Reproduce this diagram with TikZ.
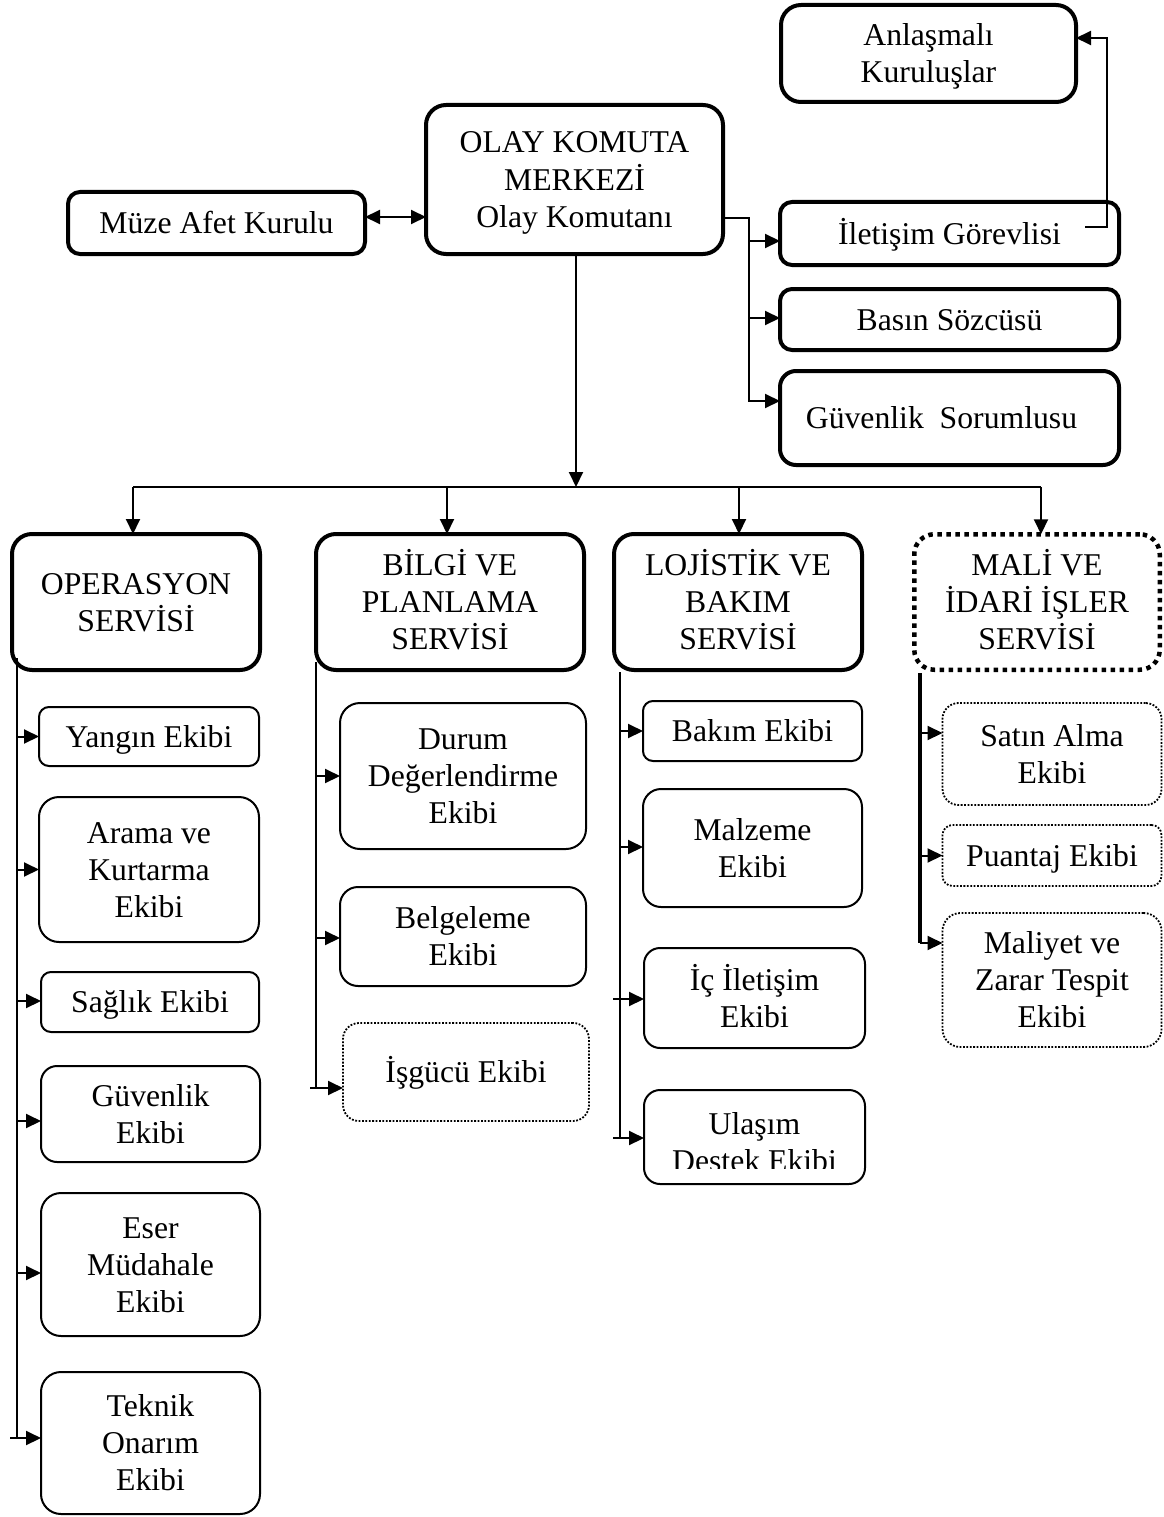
\documentclass[tikz,border=0pt]{standalone}
\usepackage{fontspec}
\setmainfont{Liberation Serif}
\usetikzlibrary{arrows.meta}
\newcommand\st{\rule[-7pt]{0pt}{35pt}}
\begin{document}
\begin{tikzpicture}[x=1pt,y=-1pt,
  every node/.style={font=\fontsize{31.7}{37}\selectfont, align=center, inner sep=0pt, outer sep=0pt},
  bigbox/.style={draw, line width=4pt, rounded corners=20pt},
  smallbox/.style={draw, line width=2pt, rounded corners=14pt},
  dotbig/.style={draw, line width=4.5pt, dash pattern=on 4.5pt off 4.5pt, rounded corners=20pt},
  dotsmall/.style={draw, line width=1.8pt, dash pattern=on 1.8pt off 1.6pt, rounded corners=16pt},
  conn/.style={line width=2pt},
  arr/.style={line width=2pt, -{Triangle[length=15pt,width=14pt]}},
  dbl/.style={line width=2pt, {Triangle[length=15pt,width=14pt]}-{Triangle[length=15pt,width=14pt]}},
  ]
\useasboundingbox (0,0) rectangle (1163,1517);

% top level
\node[bigbox, minimum width=295pt, minimum height=97pt] (ank) at (928.5,53.5) {\st Anlaşmalı\\\st Kuruluşlar};
\node[bigbox, minimum width=297pt, minimum height=149pt] (olay) at (574.5,179.5) {\st OLAY KOMUTA\\\st MERKEZİ\\\st Olay Komutanı};
\node[bigbox, minimum width=297pt, minimum height=62pt, rounded corners=12pt] (muze) at (216.5,223) {\st Müze Afet Kurulu};
\node[bigbox, minimum width=339pt, minimum height=63pt, rounded corners=12pt] (ilet) at (949.5,233.5) {\st İletişim Görevlisi};
\node[bigbox, minimum width=339pt, minimum height=61pt, rounded corners=12pt] (basin) at (949.5,319.5) {\st Basın Sözcüsü};
\node[bigbox, minimum width=339pt, minimum height=94pt, rounded corners=16pt] (guv) at (949.5,418) {\st Güvenlik\ \ Sorumlusu\hspace*{16pt}};

% services
\node[bigbox, minimum width=248pt, minimum height=136pt] (ops) at (136,602) {\st OPERASYON\\\st SERVİSİ};
\node[bigbox, minimum width=268pt, minimum height=136pt] (bil) at (450,602) {\st BİLGİ VE\\\st PLANLAMA\\\st SERVİSİ};
\node[bigbox, minimum width=248pt, minimum height=136pt] (loj) at (738,602) {\st LOJİSTİK VE\\\st BAKIM\\\st SERVİSİ};
\node[dotbig, minimum width=245.5pt, minimum height=135.5pt] (mali) at (1037,602) {\st MALİ VE\\\st İDARİ İŞLER\\\st SERVİSİ};

% operasyon teams
\node[smallbox, minimum width=220pt, minimum height=59pt, rounded corners=10pt] (yangin) at (149,736.5) {\st Yangın Ekibi};
\node[smallbox, minimum width=220pt, minimum height=145pt, rounded corners=20pt] (arama) at (149,869.5) {\st Arama ve\\\st Kurtarma\\\st Ekibi};
\node[smallbox, minimum width=218pt, minimum height=60pt, rounded corners=10pt] (saglik) at (150,1002) {\st Sağlık Ekibi};
\node[smallbox, minimum width=219pt, minimum height=96pt, rounded corners=16pt] (guvE) at (150.5,1114) {\st Güvenlik\\\st Ekibi};
\node[smallbox, minimum width=219pt, minimum height=143pt, rounded corners=20pt] (eser) at (150.5,1264.5) {\st Eser\\\st Müdahale\\\st Ekibi};
\node[smallbox, minimum width=219pt, minimum height=142pt, rounded corners=20pt] (teknik) at (150.5,1443) {\st Teknik\\\st Onarım\\\st Ekibi};

% bilgi teams
\node[smallbox, minimum width=246pt, minimum height=146pt, rounded corners=20pt] (durum) at (463,776) {\st Durum\\\st Değerlendirme\\\st Ekibi};
\node[smallbox, minimum width=246pt, minimum height=99pt, rounded corners=18pt] (belge) at (463,936.5) {\st Belgeleme\\\st Ekibi};
\node[dotsmall, minimum width=246pt, minimum height=98pt, rounded corners=16pt] (isgucu) at (466,1072) {\st İşgücü Ekibi};

% lojistik teams
\node[smallbox, minimum width=219pt, minimum height=60pt, rounded corners=10pt] (bakim) at (752.5,731) {\st Bakım Ekibi};
\node[smallbox, minimum width=219pt, minimum height=118pt, rounded corners=18pt] (malz) at (752.5,848) {\st Malzeme\\\st Ekibi};
\node[smallbox, minimum width=221pt, minimum height=100pt, rounded corners=16pt] (ic) at (754.5,998) {\st İç İletişim\\\st Ekibi};
\node[smallbox, minimum width=221pt, minimum height=94pt, rounded corners=16pt] (ulasim) at (754.5,1137) {};
\begin{scope}
  \clip ([xshift=2pt]ulasim.north west) rectangle ([yshift=16pt,xshift=-2pt]ulasim.south east);
  \node[anchor=north] (ulasimtxt) at ([yshift=-16pt]ulasim.north) {\st Ulaşım\\\st Destek Ekibi};
\end{scope}

% mali teams
\node[dotsmall, minimum width=219pt, minimum height=102pt, rounded corners=16pt] (satin) at (1052,754) {\st Satın Alma\\\st Ekibi};
\node[dotsmall, minimum width=219pt, minimum height=61pt, rounded corners=10pt] (puan) at (1052,855.5) {\st Puantaj Ekibi};
\node[dotsmall, minimum width=219pt, minimum height=134pt, rounded corners=18pt] (maliyet) at (1052,980) {\st Maliyet ve\\\st Zarar Tespit\\\st Ekibi};

% Müze <-> Olay
\path ([yshift=6pt]muze.east) coordinate (m1);
\draw[dbl] (m1) -- (olay.west |- m1);

% Olay -> right column
\coordinate (rt) at (749,218);
\path ([yshift=-7.5pt]ilet.west) coordinate (i1)
      ([yshift=1.5pt]basin.west) coordinate (s1)
      ([yshift=17pt]guv.west) coordinate (g1);
\draw[arr] (olay.east |- rt) -- (rt) -- (rt |- g1) -- (g1);
\draw[arr] (rt |- i1) -- (i1);
\draw[arr] (rt |- s1) -- (s1);

% İletişim -> Anlaşmalı
\coordinate (c1) at (1085,227);
\coordinate (c2) at (1107,0);
\path ([yshift=15.5pt]ank.east) coordinate (a1);
\draw[arr] (c1) -| (c2 |- a1) -- (a1);

% Olay -> bus
\coordinate (bus) at (576,487);
\draw[arr] (bus |- olay.south) -- (bus);
\coordinate (bl) at (133,487);
\coordinate (br) at (1041,487);
\coordinate (b2) at (447,487);
\coordinate (b3) at (739,487);
\draw[line width=2.5pt] (bl) -- (br);
\draw[arr] (bl) -- (bl |- ops.north);
\draw[arr] (b2) -- (b2 |- bil.north);
\draw[arr] (b3) -- (b3 |- loj.north);
\draw[arr] (br) -- (br |- mali.north);

% operasyon trunk
\coordinate (ot) at (17,658);
\coordinate (os) at (10,0);
\path ([yshift=5pt]teknik.west) coordinate (t6);
\draw[conn] (ot) -- (ot |- t6);
\foreach \n/\d in {yangin/0,arama/0,saglik/1,guvE/-7,eser/-8.5} {
  \path ([yshift=\d]\n.west) coordinate (p);
  \draw[arr] (ot |- p) -- (p);
}
\draw[arr] (os |- t6) -- (t6);

% bilgi trunk
\coordinate (bt) at (316,662);
\coordinate (bs) at (310,0);
\path ([yshift=-16pt]isgucu.west) coordinate (w3);
\draw[conn] (bt) -- (bt |- w3);
\foreach \n/\d in {durum/0,belge/-1.5} {
  \path ([yshift=\d]\n.west) coordinate (p);
  \draw[arr] (bt |- p) -- (p);
}
\draw[arr] (bs |- w3) -- (w3);

% lojistik trunk
\coordinate (lt) at (620,672);
\coordinate (ls) at (613,0);
\path ([yshift=-1pt]ulasim.west) coordinate (u4)
      ([yshift=-1pt]ic.west) coordinate (u3);
\draw[conn] (lt) -- (lt |- u4);
\foreach \n/\d in {bakim/0,malz/1} {
  \path ([yshift=\d]\n.west) coordinate (p);
  \draw[arr] (lt |- p) -- (p);
}
\draw[arr] (ls |- u3) -- (u3);
\draw[arr] (ls |- u4) -- (u4);

% mali trunk
\coordinate (mt) at (920,673);
\path ([yshift=21pt]satin.west) coordinate (q1)
      (puan.west) coordinate (q2)
      ([yshift=37pt]maliyet.west) coordinate (q3);
\draw[line width=3.5pt] (mt) -- (mt |- q3);
\draw[arr] (mt |- q1) -- (q1);
\draw[arr] (mt |- q2) -- (q2);
\draw[arr] (mt |- q3) -- (q3);
\end{tikzpicture}
\end{document}
